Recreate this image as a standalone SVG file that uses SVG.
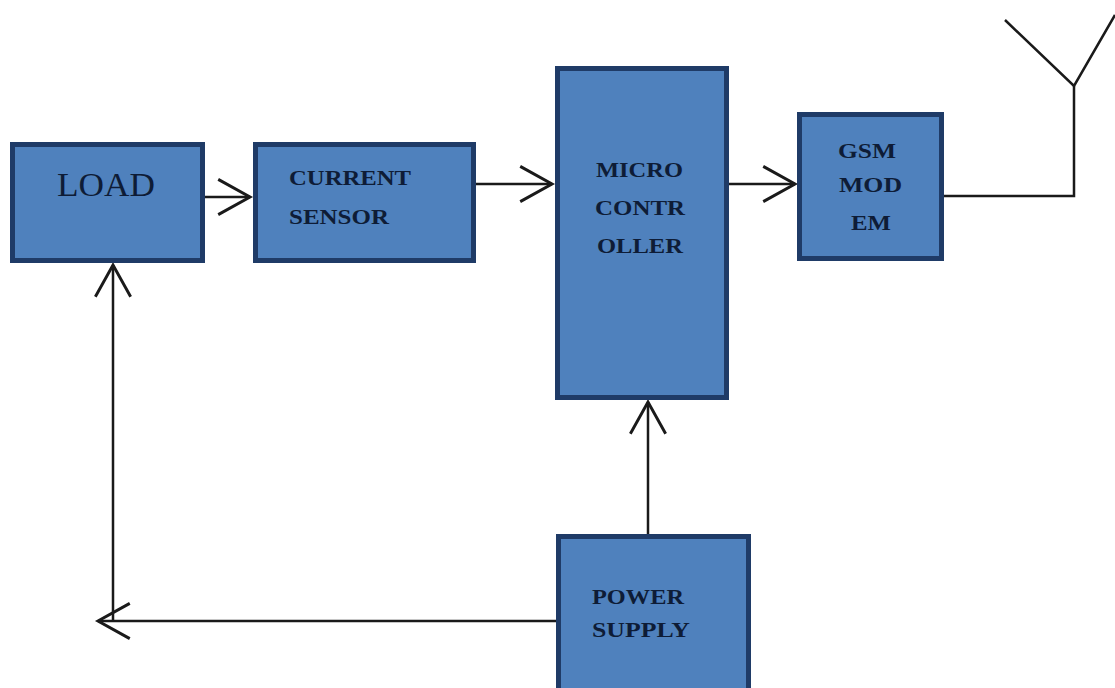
<svg xmlns="http://www.w3.org/2000/svg" width="1115" height="688" viewBox="0 0 1115 688">
<style>
.box{fill:#4f81bd;stroke:#1f3b67;stroke-width:5}
.lbl{font-family:"Liberation Serif","Times New Roman",serif;fill:#0e1c36;font-weight:bold;font-size:22px}
.big{font-weight:normal;font-size:34px}
.conn{fill:none;stroke:#1a1a1a;stroke-width:2.5}
</style>
<defs>
<marker id="arr" markerUnits="userSpaceOnUse" markerWidth="40" markerHeight="40" viewBox="-30 -16 34 32" refX="0" refY="0" orient="auto">
<path d="M-27,-15 L0,0 L-27,15" fill="none" stroke="#1a1a1a" stroke-width="2.5"/>
</marker>
</defs>
<rect width="1115" height="688" fill="#ffffff"/>
<g id="connectors">
<line class="conn" x1="205" y1="197" x2="250" y2="197" marker-end="url(#arr)"/>
<line class="conn" x1="476" y1="184" x2="552" y2="184" marker-end="url(#arr)"/>
<line class="conn" x1="729" y1="184" x2="795" y2="184" marker-end="url(#arr)"/>
<polyline class="conn" points="944,196 1074,196 1074,86"/>
<polyline class="conn" points="1005,20 1074,86 1115,15"/>
<line class="conn" x1="648" y1="534" x2="648" y2="402" marker-end="url(#arr)"/>
<line class="conn" x1="556" y1="621" x2="98" y2="621" marker-end="url(#arr)"/>
<line class="conn" x1="113" y1="621" x2="113" y2="265" marker-end="url(#arr)"/>
</g>
<g id="load">
<rect class="box" x="12.5" y="144.5" width="190" height="116"/>
<text class="lbl big" x="57" y="196" textLength="98" lengthAdjust="spacingAndGlyphs">LOAD</text>
</g>
<g id="current-sensor">
<rect class="box" x="255.5" y="144.5" width="218" height="116"/>
<text class="lbl" x="289" y="185" textLength="122" lengthAdjust="spacingAndGlyphs">CURRENT</text>
<text class="lbl" x="289" y="224" textLength="100" lengthAdjust="spacingAndGlyphs">SENSOR</text>
</g>
<g id="microcontroller">
<rect class="box" x="557.5" y="68.5" width="169" height="329"/>
<text class="lbl" x="596" y="177" textLength="87" lengthAdjust="spacingAndGlyphs">MICRO</text>
<text class="lbl" x="595" y="215" textLength="90" lengthAdjust="spacingAndGlyphs">CONTR</text>
<text class="lbl" x="597" y="253" textLength="86" lengthAdjust="spacingAndGlyphs">OLLER</text>
</g>
<g id="gsm-modem">
<rect class="box" x="799.5" y="114.5" width="142" height="144"/>
<text class="lbl" x="838" y="158" textLength="58" lengthAdjust="spacingAndGlyphs">GSM</text>
<text class="lbl" x="839" y="192" textLength="63" lengthAdjust="spacingAndGlyphs">MOD</text>
<text class="lbl" x="851" y="230" textLength="40" lengthAdjust="spacingAndGlyphs">EM</text>
</g>
<g id="power-supply">
<rect class="box" x="558.5" y="536.5" width="190" height="160"/>
<text class="lbl" x="592" y="604" textLength="92" lengthAdjust="spacingAndGlyphs">POWER</text>
<text class="lbl" x="592" y="637" textLength="98" lengthAdjust="spacingAndGlyphs">SUPPLY</text>
</g>
</svg>
